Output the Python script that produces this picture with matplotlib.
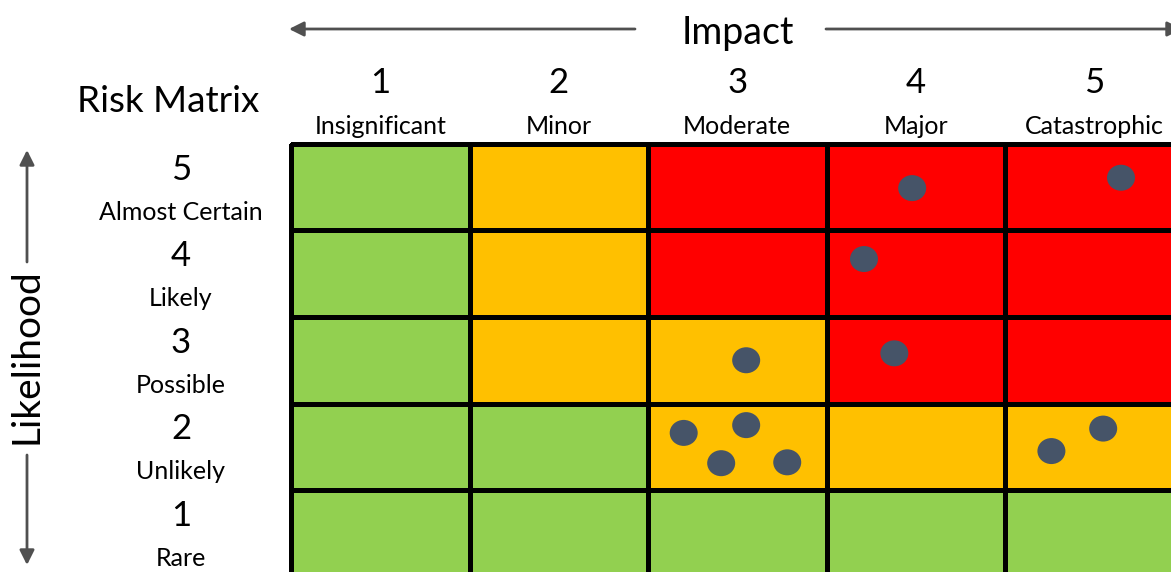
import matplotlib
matplotlib.use('Agg')
import matplotlib.pyplot as plt
import matplotlib.transforms as mtransforms
from matplotlib.colors import ListedColormap
from matplotlib.patches import Ellipse
import numpy as np

plt.rcParams['font.family'] = ['Lato', 'DejaVu Sans']

# impact (columns) and likelihood (rows)
impact_levels = [1, 2, 3, 4, 5]
impact_labels = ['Insignificant', 'Minor', 'Moderate', 'Major', 'Catastrophic']
likelihood_levels = [1, 2, 3, 4, 5]
likelihood_labels = ['Rare', 'Unlikely', 'Possible', 'Likely', 'Almost Certain']

# risk rating per cell: 0 = low (green), 1 = medium (amber), 2 = high (red)
# rows go likelihood 1 -> 5, columns impact 1 -> 5
risk_grid = np.array([
    [0, 0, 0, 0, 0],
    [0, 0, 1, 1, 1],
    [0, 1, 1, 2, 2],
    [0, 1, 2, 2, 2],
    [0, 1, 2, 2, 2],
])

# individual risks plotted inside the cells (impact, likelihood)
risk_impact = [3.98, 5.15, 3.71, 3.88, 3.05, 2.70, 3.05, 2.91, 3.28, 4.76, 5.05]
risk_likelihood = [4.99, 5.11, 4.17, 3.08, 3.00, 2.16, 2.25, 1.81, 1.82, 1.95, 2.21]

W, H = 1171, 572
fig = plt.figure(figsize=(W / 100, H / 100), dpi=100)


def fx(px):
    return px / W


def fy(py):
    return 1 - py / H


# grid axes (extends a little beyond the right and bottom edge, as in the original)
col_w, row_h = 178.5, 86.5
left, top = 291, 144
ax = fig.add_axes([fx(left), fy(top + 5 * row_h), 5 * col_w / W, 5 * row_h / H])

cmap = ListedColormap(['#92D050', '#FFC000', '#FF0000'])
edges_x = np.arange(0.5, 6.0, 1.0)
edges_y = np.arange(0.5, 6.0, 1.0)
mesh = ax.pcolormesh(edges_x, edges_y, risk_grid, cmap=cmap, vmin=-0.5, vmax=2.5,
                     edgecolors='black', linewidth=2.3)
mesh.set_clip_on(False)

for x, y in zip(risk_impact, risk_likelihood):
    ax.add_patch(Ellipse((x, y), width=28 / col_w, height=26 / row_h,
                         facecolor='#465468', edgecolor='none', zorder=3))

ax.set_xlim(0.5, 5.5)
ax.set_ylim(0.5, 5.5)
ax.axis('off')

# column headers
trans_x = mtransforms.blended_transform_factory(ax.transData, fig.transFigure)
for lvl, lab in zip(impact_levels, impact_labels):
    fig.text(lvl, fy(83), str(lvl), transform=trans_x, ha='center', va='center', fontsize=25)
    fig.text(lvl, fy(126), lab, transform=trans_x, ha='center', va='center', fontsize=18)

# row headers
trans_y = mtransforms.blended_transform_factory(fig.transFigure, ax.transData)
for lvl, lab in zip(likelihood_levels, likelihood_labels):
    fig.text(fx(181), lvl + 0.2, str(lvl), transform=trans_y, ha='center', va='center', fontsize=25)
    fig.text(fx(181), lvl - 0.29, lab, transform=trans_y, ha='center', va='center', fontsize=18)

fig.text(fx(168), fy(102), 'Risk Matrix', ha='center', va='center', fontsize=26.5)
fig.text(fx(738), fy(33), 'Impact', ha='center', va='center', fontsize=27)
fig.text(fx(27), fy(356), 'Likelihood', ha='center', va='center', fontsize=28, rotation=90)

# axis arrows
arrow = dict(arrowstyle='-|>', color='#505050', lw=2, mutation_scale=22, shrinkA=0, shrinkB=0)
for start, end in [((635, 29), (289, 29)), ((826, 29), (1182, 29)),
                   ((27, 262), (27, 150)), ((27, 455), (27, 565))]:
    fig.add_artist(matplotlib.patches.FancyArrowPatch(
        (fx(start[0]), fy(start[1])), (fx(end[0]), fy(end[1])),
        transform=fig.transFigure, **arrow))

plt.savefig('out.png', dpi=100)
